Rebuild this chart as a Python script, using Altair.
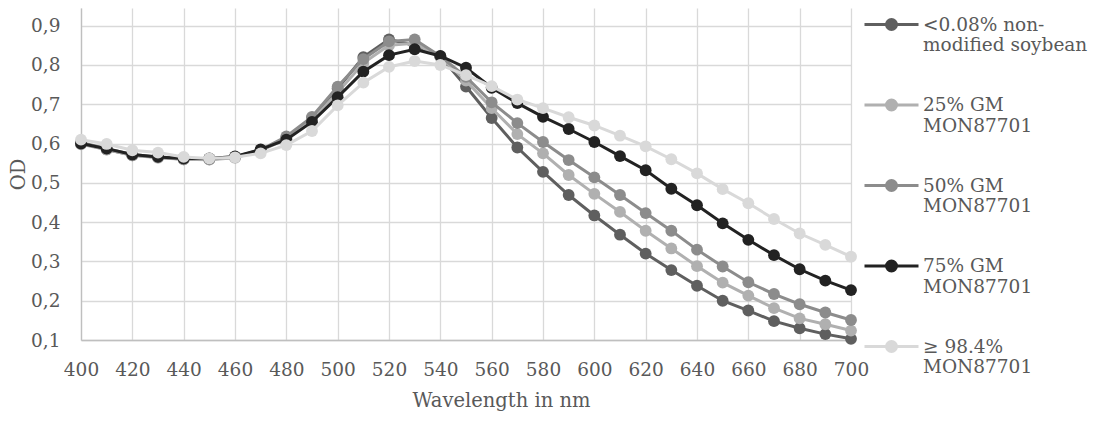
import altair as alt
import pandas as pd

wavelengths = list(range(400, 701, 10))

series_names = [
    "<0.08% non-\nmodified soybean",
    "25% GM\nMON87701",
    "50% GM\nMON87701",
    "75% GM\nMON87701",
    "\u2265 98.4%\nMON87701",
]
series_colors = ["#5f5f5f", "#b0b0b0", "#8c8c8c", "#222222", "#d9d9d9"]

od_non_gm = [0.600, 0.585, 0.570, 0.565, 0.560, 0.560, 0.565, 0.583, 0.615, 0.665,
             0.740, 0.820, 0.865, 0.850, 0.822, 0.745, 0.665, 0.590, 0.528, 0.469,
             0.417, 0.368, 0.320, 0.278, 0.238, 0.200, 0.175, 0.148, 0.130, 0.115, 0.103]
od_25 = [0.598, 0.585, 0.570, 0.564, 0.560, 0.559, 0.564, 0.582, 0.612, 0.660,
         0.730, 0.805, 0.850, 0.855, 0.820, 0.760, 0.690, 0.624, 0.575, 0.520,
         0.472, 0.426, 0.378, 0.333, 0.288, 0.246, 0.213, 0.181, 0.155, 0.140, 0.124]
od_50 = [0.603, 0.587, 0.572, 0.566, 0.562, 0.561, 0.566, 0.584, 0.618, 0.668,
         0.745, 0.815, 0.860, 0.865, 0.822, 0.770, 0.705, 0.652, 0.604, 0.558,
         0.514, 0.469, 0.423, 0.378, 0.330, 0.287, 0.247, 0.217, 0.191, 0.170, 0.151]
od_75 = [0.600, 0.587, 0.572, 0.566, 0.562, 0.562, 0.567, 0.585, 0.610, 0.655,
         0.718, 0.783, 0.825, 0.840, 0.823, 0.793, 0.742, 0.703, 0.668, 0.637,
         0.604, 0.568, 0.532, 0.485, 0.443, 0.397, 0.355, 0.316, 0.280, 0.251, 0.227]
od_984 = [0.610, 0.599, 0.583, 0.577, 0.566, 0.562, 0.565, 0.575, 0.596, 0.632,
          0.697, 0.755, 0.795, 0.810, 0.800, 0.774, 0.746, 0.712, 0.690, 0.667,
          0.646, 0.620, 0.593, 0.560, 0.524, 0.484, 0.448, 0.408, 0.371, 0.342, 0.312]

all_values = [od_non_gm, od_25, od_50, od_75, od_984]

y_ticks = [0.1, 0.2, 0.3, 0.4, 0.5, 0.6, 0.7, 0.8, 0.9]
x_ticks = list(range(400, 701, 20))

rows = []
for name, vals in zip(series_names, all_values):
    for wl, v in zip(wavelengths, vals):
        rows.append({"wl": wl, "od": v, "series": name})
df = pd.DataFrame(rows)

FONT = "DejaVu Serif"
TXT = "#595959"

color = alt.Color(
    "series:N",
    scale=alt.Scale(domain=series_names, range=series_colors),
    legend=alt.Legend(
        title=None,
        labelExpr="split(datum.label, '\\n')",
        orient="none", legendX=799, legendY=5,
    ),
)
x = alt.X(
    "wl:Q",
    scale=alt.Scale(domain=[400, 700], nice=False, zero=False),
    axis=alt.Axis(values=x_ticks, format="d", title="Wavelength in nm",
                  titleX=420, titleY=60, titleBaseline="middle",
                  labelPadding=20, labelFlush=False, ticks=False),
)
y = alt.Y(
    "od:Q",
    scale=alt.Scale(domain=[0.1, 0.945], nice=False, zero=False),
    axis=alt.Axis(values=y_ticks,
                  labelExpr="replace(format(datum.value, '.1f'), '.', ',')",
                  title="OD", titleX=-63, titleY=166, titleAngle=270,
                  titleAlign="center", titleBaseline="middle",
                  labelPadding=21, ticks=False),
)

layers = []
for name in series_names:
    sub = df[df["series"] == name]
    base = alt.Chart(sub).encode(x=x, y=y, color=color, order=alt.Order("wl:Q"))
    layers.append(base.mark_line(strokeWidth=3))
    layers.append(base.mark_point(filled=True, size=140, opacity=1))

legend_symbol = ("M-2.7,0H2.7M-0.5,0A0.5,0.5,0,1,1,0.5,0A0.5,0.5,0,1,1,-0.5,0Z")

chart = (
    alt.layer(*layers)
    .properties(width=770, height=332, autosize="none",
                padding={"left": 73, "top": 0, "right": 240, "bottom": 80})
    .configure(font=FONT)
    .configure_view(stroke=None)
    .configure_axis(
        labelFont=FONT, labelFontSize=18.5, labelColor=TXT,
        titleFont=FONT, titleFontSize=19.5, titleColor=TXT,
        titleFontWeight="normal",
        gridColor="#d9d9d9", gridWidth=1.3, domainColor="#bfbfbf", domainWidth=1.3,
    )
    .configure_legend(
        labelFont=FONT, labelFontSize=18.5, labelColor=TXT, labelLimit=0,
        symbolType=legend_symbol, symbolSize=400,
        symbolStrokeWidth=3, labelOffset=20, padding=0, rowPadding=38.5,
    )
)

chart.save("out.html", embed_options={"renderer": "svg", "actions": False})
